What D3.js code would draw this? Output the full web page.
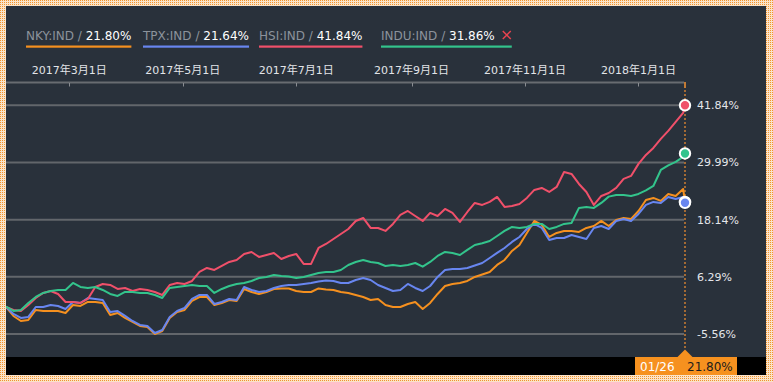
<!DOCTYPE html>
<html><head><meta charset="utf-8">
<script src="https://cdn.jsdelivr.net/npm/d3@7"></script>
<style>html,body{margin:0;padding:0;background:#fff;}svg{display:block}</style>
</head><body><svg id="c" width="773" height="382"></svg>
<script>
const dates = ["2017-01-26","2017-01-30","2017-02-03","2017-02-07","2017-02-11","2017-02-15","2017-02-19","2017-02-23","2017-02-27","2017-03-03",
"2017-03-07","2017-03-11","2017-03-15","2017-03-19","2017-03-23","2017-03-27","2017-03-31","2017-04-04","2017-04-08","2017-04-12",
"2017-04-16","2017-04-20","2017-04-24","2017-04-28","2017-05-02","2017-05-06","2017-05-10","2017-05-14","2017-05-18","2017-05-22",
"2017-05-26","2017-05-30","2017-06-03","2017-06-07","2017-06-11","2017-06-15","2017-06-19","2017-06-23","2017-06-27","2017-07-01",
"2017-07-05","2017-07-09","2017-07-13","2017-07-17","2017-07-21","2017-07-25","2017-07-29","2017-08-02","2017-08-06","2017-08-10",
"2017-08-14","2017-08-18","2017-08-22","2017-08-26","2017-08-30","2017-09-03","2017-09-07","2017-09-11","2017-09-15","2017-09-19",
"2017-09-23","2017-09-27","2017-10-01","2017-10-05","2017-10-09","2017-10-13","2017-10-17","2017-10-21","2017-10-25","2017-10-29",
"2017-11-02","2017-11-06","2017-11-10","2017-11-14","2017-11-18","2017-11-22","2017-11-26","2017-11-30","2017-12-04","2017-12-08",
"2017-12-12","2017-12-16","2017-12-20","2017-12-24","2017-12-28","2018-01-01","2018-01-05","2018-01-09","2018-01-13","2018-01-17",
"2018-01-21","2018-01-25","2018-01-26"];

const nky = [0.04,-1.82,-2.86,-2.65,-0.58,-0.79,-0.79,-0.79,-1.20,0.46,
0.25,1.08,1.08,0.87,-1.62,-1.20,-2.24,-3.07,-3.90,-4.10,
-5.56,-4.93,-2.24,-1.00,-0.58,1.29,2.11,2.11,0.46,0.87,
1.49,1.29,3.77,3.15,2.74,3.15,3.77,3.88,3.88,3.36,
3.15,3.15,3.88,3.67,3.57,3.15,2.94,2.53,2.11,1.49,
1.70,0.46,0.04,0.04,0.66,1.08,-0.37,0.87,2.74,4.39,
4.81,5.02,5.43,6.26,6.78,7.30,8.75,9.78,11.65,12.89,
15.38,17.87,17.04,14.55,15.38,15.80,15.80,15.59,16.42,16.83,
17.87,16.83,18.08,18.49,18.28,19.94,22.22,22.64,22.02,23.47,
23.05,24.50,21.80];

const tpx = [0.04,-1.41,-2.24,-2.03,0.04,0.04,0.46,0.25,-0.37,1.08,
0.87,1.91,1.70,1.49,-1.00,-0.79,-1.82,-2.86,-3.69,-3.90,
-5.35,-4.73,-2.03,-0.79,-0.17,1.70,2.53,2.53,0.66,1.08,
1.70,1.49,4.19,3.57,3.15,3.36,3.98,4.39,4.60,4.60,
4.81,5.02,5.33,5.53,5.43,5.02,5.02,5.64,6.05,5.64,
4.60,3.98,3.36,3.57,4.81,3.98,3.36,4.39,6.26,7.71,
7.92,7.92,8.13,8.64,9.16,10.20,11.24,12.27,13.52,14.55,
16.21,17.25,16.42,13.93,14.34,14.34,14.96,14.55,14.14,16.42,
16.83,16.21,17.87,18.28,17.87,19.32,21.19,21.81,21.60,22.85,
22.43,22.85,21.64];

const hsi = [0.04,-0.58,-0.79,0.46,1.91,2.94,3.36,2.74,1.08,1.08,
0.87,1.70,4.19,4.81,4.60,3.77,3.98,3.36,3.77,3.57,
3.15,2.53,4.60,5.02,4.81,5.43,7.30,8.13,7.71,8.54,
9.37,9.78,11.03,11.44,10.41,10.82,11.24,9.99,10.61,11.03,
8.96,8.96,12.27,13.10,14.13,15.17,16.21,17.87,18.49,16.42,
16.42,15.80,17.25,19.11,19.94,18.90,17.87,19.53,18.90,20.36,
19.53,17.66,19.73,21.60,21.19,21.81,22.85,20.77,20.98,21.39,
22.64,24.30,24.71,23.88,24.92,28.03,27.61,25.54,23.88,21.19,
23.05,23.67,24.71,26.58,27.20,29.70,31.56,33.01,34.87,36.53,
38.39,40.26,41.84];

const indu = [0.10,-0.79,-0.58,0.87,2.11,2.94,3.36,3.57,3.57,5.02,
4.19,3.98,4.19,3.57,2.74,2.32,3.15,3.15,2.94,2.94,
2.53,1.91,3.98,4.19,4.39,4.60,4.39,4.39,2.94,3.77,
4.39,4.81,5.02,5.43,6.05,6.26,6.67,6.47,6.36,6.05,
6.26,6.67,7.09,7.30,7.30,7.71,8.75,9.37,9.78,9.37,
9.16,8.54,8.75,8.54,8.75,9.16,8.40,9.37,10.61,11.44,
11.24,10.82,11.86,12.89,13.25,13.72,14.76,15.80,16.63,16.42,
16.63,17.25,17.25,16.21,16.63,17.25,17.46,20.57,20.77,20.57,
21.60,22.91,23.26,23.26,23.05,23.47,24.19,25.12,28.44,29.37,
30.10,31.14,31.86];

const seriesNames = ["NKY:IND","TPX:IND","HSI:IND","INDU:IND"];
const legendValues = ["21.80%","21.64%","41.84%","31.86%"];
const yTickValues = [41.84, 29.99, 18.14, 6.29, -5.56];
const yTickLabels = ["41.84%","29.99%","18.14%","6.29%","-5.56%"];
const xTickDates = ["2017-03-01","2017-05-01","2017-07-01","2017-09-01","2017-11-01","2018-01-01"];
const xTickLabels = ["2017年3月1日","2017年5月1日","2017年7月1日","2017年9月1日","2017年11月1日","2018年1月1日"];
const tooltipDate = "01/26";
const tooltipValue = "21.80%";

const colors = ["#f5901f","#6886f0","#f0506a","#33c48c"];
const seriesValues = [nky, tpx, hsi, indu];

const parse = d3.timeParse("%Y-%m-%d");
const dateObjs = dates.map(parse);
const svg = d3.select("#c");
const FONT = "'DejaVu Sans','Noto Sans CJK JP',sans-serif";

// dotted border pattern
const defs = svg.append("defs");
const pat = defs.append("pattern").attr("id","dots").attr("width",2).attr("height",2).attr("patternUnits","userSpaceOnUse");
pat.append("rect").attr("width",2).attr("height",2).attr("fill","#fbe3c8");
pat.append("rect").attr("width",1).attr("height",1).attr("fill","#f0952e");
svg.append("rect").attr("width",773).attr("height",382).attr("fill","url(#dots)");
svg.append("rect").attr("x",6).attr("y",6).attr("width",760).attr("height",369).attr("fill","#29313b");

const x = d3.scaleTime().domain([dateObjs[0], dateObjs[dateObjs.length-1]]).range([6, 685]);
const y = d3.scaleLinear().domain([-5.56, 41.84]).range([334, 105.3]);

// gridlines
svg.append("g").selectAll("line").data(yTickValues).join("line")
  .attr("x1",6).attr("x2",684).attr("y1",d=>y(d)).attr("y2",d=>y(d))
  .attr("stroke","#62666b").attr("stroke-width",2);

// right labels
svg.append("g").selectAll("text").data(yTickValues).join("text")
  .attr("x",697).attr("y",d=>y(d)).attr("dy","0.35em")
  .attr("font-family",FONT).attr("font-size",11).attr("fill","#e4e6ea")
  .text((d,i)=>yTickLabels[i]);

// top axis
svg.append("line").attr("x1",6).attr("x2",684).attr("y1",82.5).attr("y2",82.5)
  .attr("stroke","#686c71").attr("stroke-width",2);
const xt = xTickDates.map(parse);
svg.append("g").selectAll("line").data(xt).join("line")
  .attr("x1",d=>Math.round(x(d))+0.5).attr("x2",d=>Math.round(x(d))+0.5)
  .attr("y1",83).attr("y2",86.5).attr("stroke","#8a8d92").attr("stroke-width",1);
svg.append("g").selectAll("text").data(xt).join("text")
  .attr("x",d=>x(d)).attr("y",74).attr("text-anchor","middle")
  .attr("font-family",FONT).attr("font-size",11).attr("fill","#e2e4e8")
  .text((d,i)=>xTickLabels[i]);

// vertical dotted cursor line
const xEnd = x(dateObjs[dateObjs.length-1]);
svg.append("line").attr("x1",xEnd).attr("x2",xEnd).attr("y1",82).attr("y2",350)
  .attr("stroke","#c27a34").attr("stroke-width",1.6).attr("stroke-dasharray","2,2");
svg.append("rect").attr("x",xEnd-1).attr("y",82).attr("width",2).attr("height",6).attr("fill","#c27a34");

// lines
svg.append("defs").append("clipPath").attr("id","clip").append("rect").attr("x",6).attr("y",6).attr("width",760).attr("height",351);
const line = d3.line().x((d,i)=>x(dateObjs[i])).y(d=>y(d));
const gl = svg.append("g").attr("clip-path","url(#clip)");
seriesValues.forEach((vals,i)=>{
  gl.append("path").attr("d",line(vals)).attr("fill","none")
    .attr("stroke",colors[i]).attr("stroke-width",2).attr("stroke-linejoin","round");
});

// end markers
seriesValues.forEach((vals,i)=>{
  svg.append("circle").attr("cx",xEnd).attr("cy",y(vals[vals.length-1])).attr("r",5.2)
    .attr("fill",colors[i]).attr("stroke","#ffffff").attr("stroke-width",2);
});

// legend
const legendX = [26,143,259,381];
seriesNames.forEach((n,i)=>{
  const g = svg.append("g").attr("transform",`translate(${legendX[i]},0)`);
  const t = g.append("text").attr("x",0).attr("y",39.5).attr("font-family",FONT).attr("font-size",12);
  t.append("tspan").attr("fill","#8c939c").text(n+" / ");
  t.append("tspan").attr("fill","#ffffff").text(legendValues[i]);
  let w = t.node().getComputedTextLength();
  if(i===3){
    const cx = w+8;
    g.append("path").attr("d",`M${cx},31 L${cx+8},39 M${cx+8},31 L${cx},39`)
      .attr("stroke","#e8434f").attr("stroke-width",1.5);
    w = cx+9;
  }
  g.append("rect").attr("x",0).attr("y",45.5).attr("width",w).attr("height",2.2).attr("fill",colors[i]);
});

// bottom strip + tooltip
svg.append("rect").attr("x",6).attr("y",357).attr("width",760).attr("height",18).attr("fill","#000000");
svg.append("rect").attr("x",635).attr("y",357).attr("width",102).attr("height",18).attr("fill","#f6911f");
svg.append("path").attr("d",`M${xEnd-8},357.5 L${xEnd},349.5 L${xEnd+8},357.5 Z`).attr("fill","#f6911f");
svg.append("text").attr("x",640).attr("y",371).attr("font-family",FONT).attr("font-size",12).attr("fill","#ffffff").text(tooltipDate);
svg.append("text").attr("x",687).attr("y",371).attr("font-family",FONT).attr("font-size",12).attr("fill","#1c1c1c").text(tooltipValue);
</script></body></html>
